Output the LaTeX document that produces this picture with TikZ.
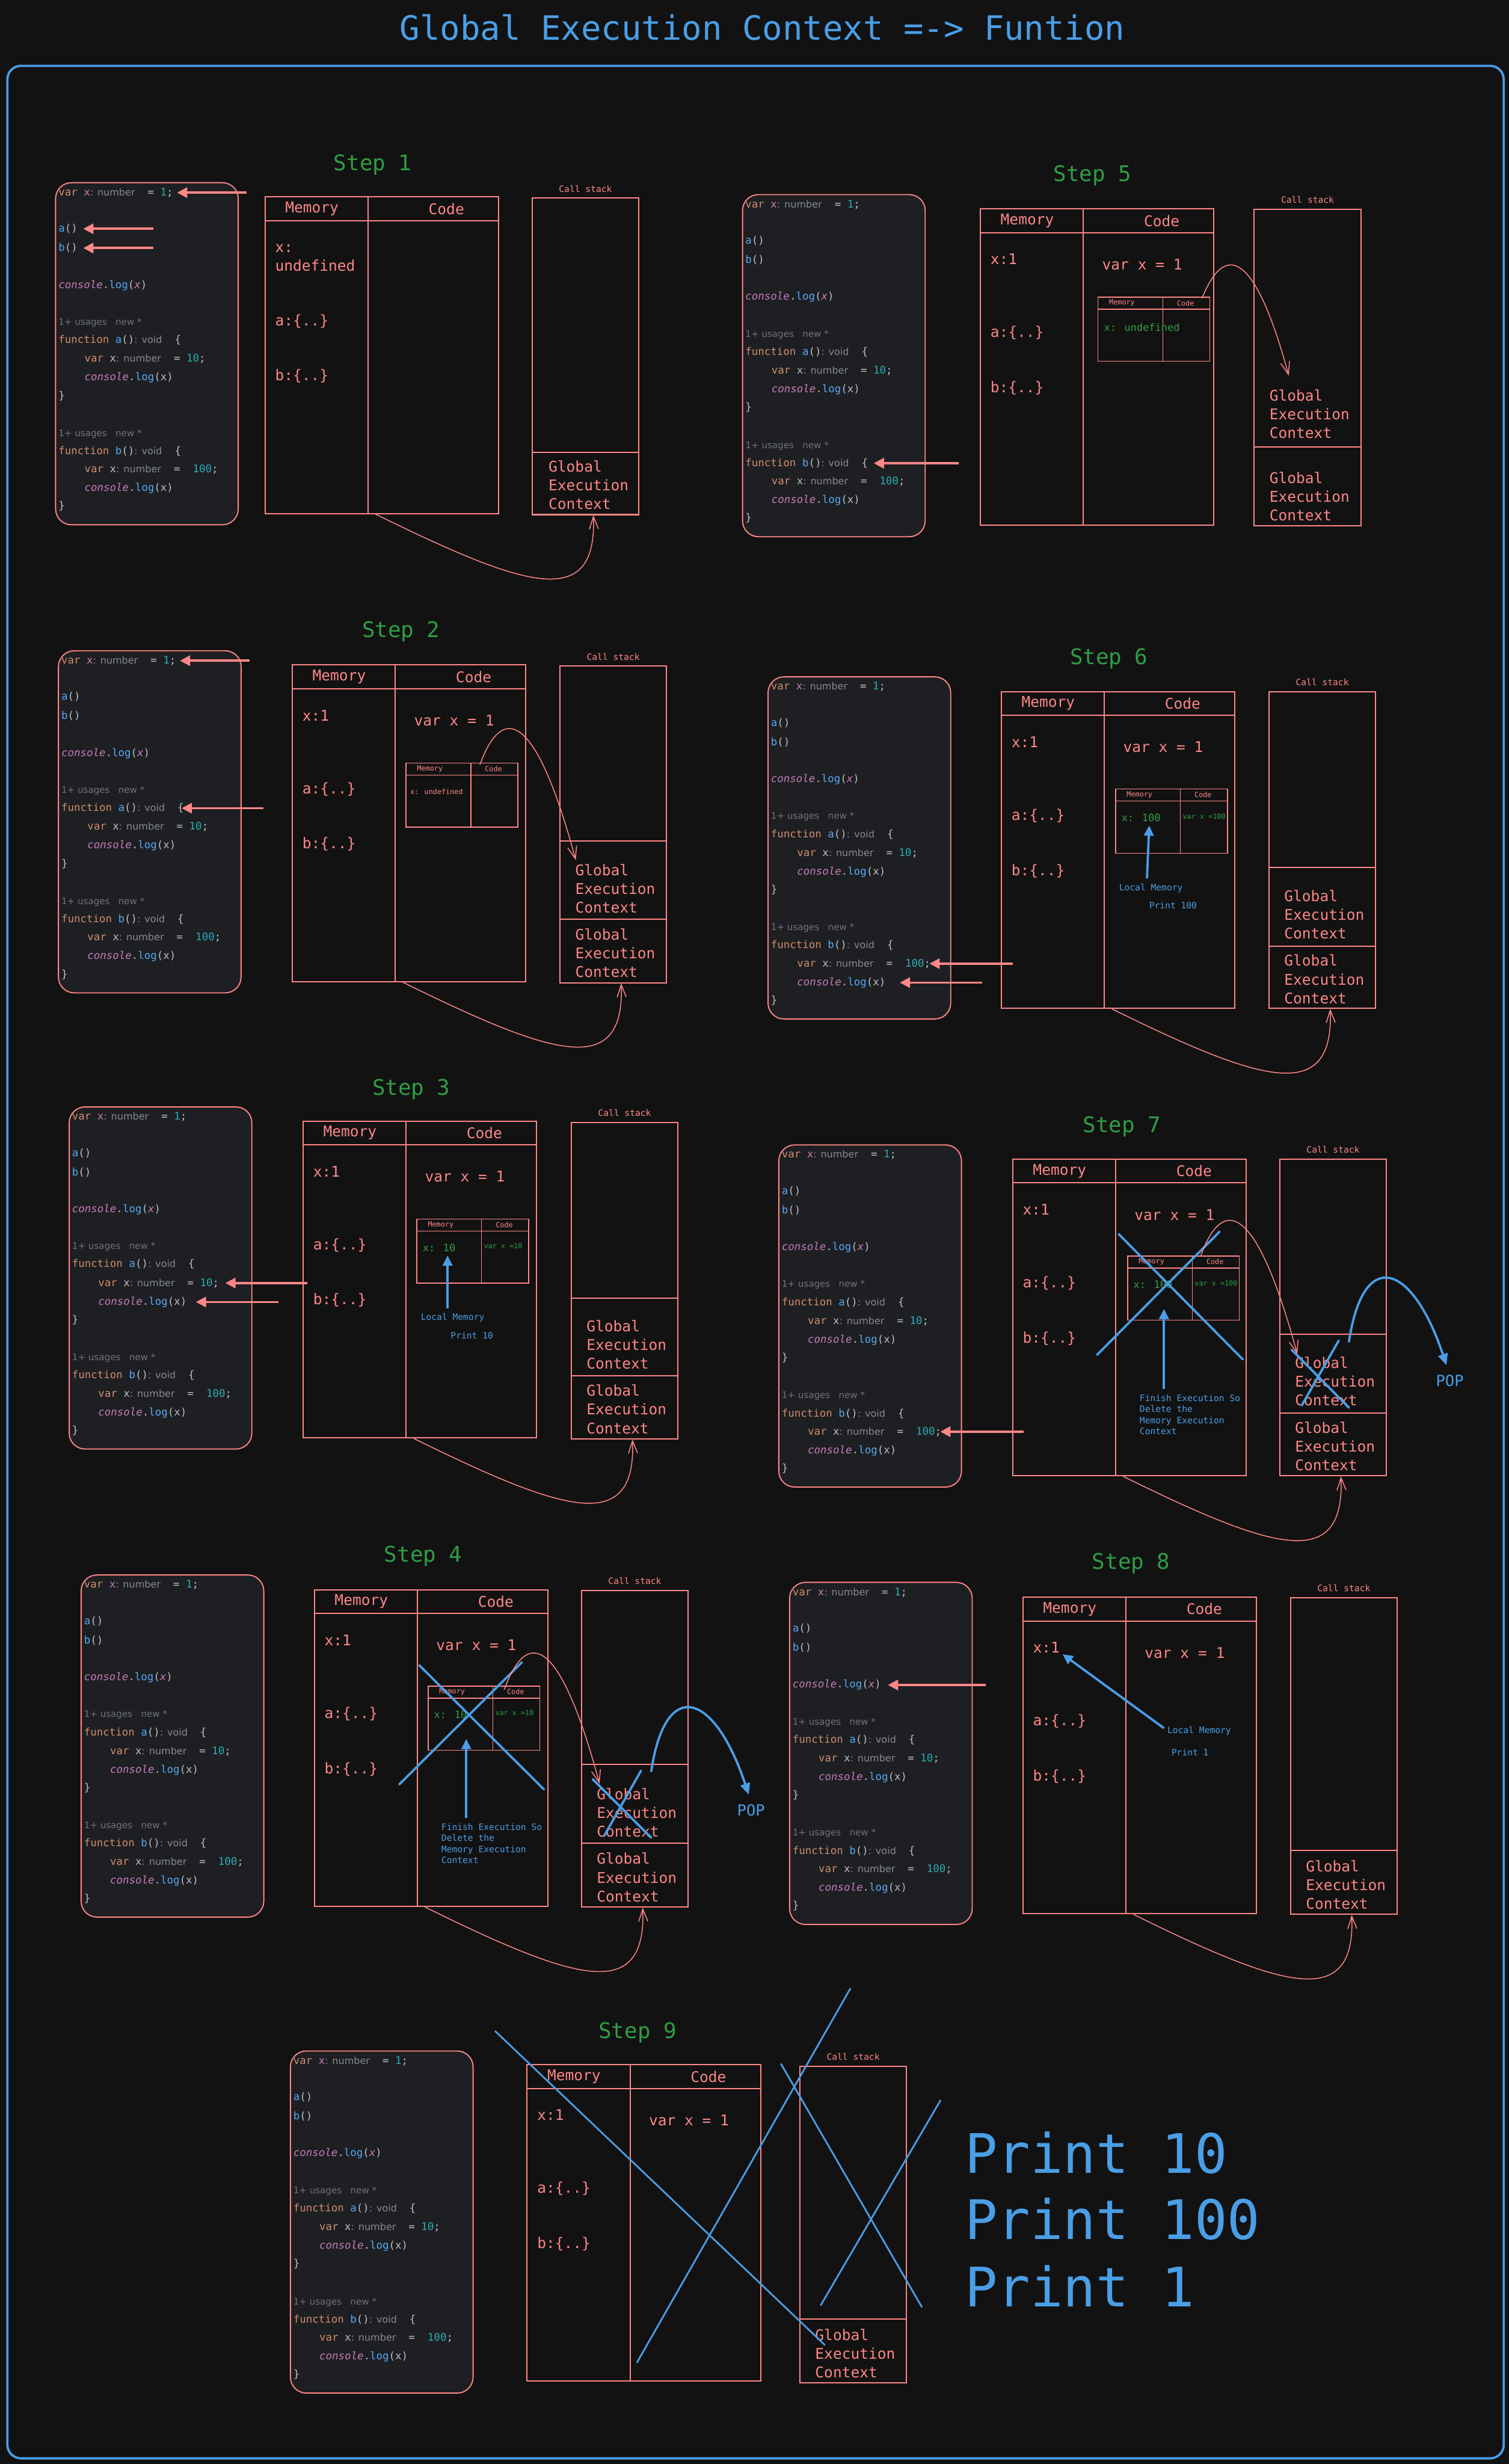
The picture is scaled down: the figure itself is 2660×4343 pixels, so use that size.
\documentclass[tikz,border=0pt]{standalone}
\usepackage{fontspec}
\setmainfont{DejaVu Sans Mono}
\newfontfamily\hintfont{DejaVu Sans}
\usetikzlibrary{positioning,arrows.meta,calc}

\definecolor{salmon}{HTML}{FF8787}
\definecolor{stepgreen}{HTML}{2F9E44}
\definecolor{noteblue}{HTML}{4A9EE6}
\definecolor{pagebg}{HTML}{121212}
\definecolor{codebg}{HTML}{1E1F22}
\definecolor{kwc}{HTML}{CF8E6D}
\definecolor{vrc}{HTML}{C77DBB}
\definecolor{fnc}{HTML}{56A8F5}
\definecolor{nmc}{HTML}{2AACB8}
\definecolor{txc}{HTML}{BCBEC4}
\definecolor{hnc}{HTML}{868A91}
\definecolor{usc}{HTML}{6F737A}

% colours of the listing
\newcommand\ckw[1]{\textcolor{kwc}{#1}}
\newcommand\cvar[1]{\textcolor{vrc}{#1}}
\newcommand\cfn[1]{\textcolor{fnc}{#1}}
\newcommand\cnum[1]{\textcolor{nmc}{#1}}
\newcommand\chint[1]{{\hintfont\fontsize{17pt}{19pt}\selectfont\textcolor{hnc}{#1}}}
\newcommand\cuse{{\hintfont\fontsize{16pt}{19pt}\selectfont\textcolor{usc}{1+ usages\ \ \ new *}}}
\newcommand\clog[1]{\textcolor{vrc}{\itshape console}.\textcolor{fnc}{log}(#1)}

% the js listing, one node per line
\newcommand\jscode[3]{%
  \node[codebox] (#1) at (#2,#3) {};
  \node[cl] (#1-1) at ($(#1.north west)+(6,24)$) {\ckw{var} \cvar{x}\chint{ : number}\ \ = \cnum{1};};
  \node[cl] (#1-2) at ($(#1.north west)+(6,88)$) {\cfn{a}()};
  \node[cl] (#1-3) at ($(#1.north west)+(6,122)$) {\cfn{b}()};
  \node[cl] (#1-4) at ($(#1.north west)+(6,187)$) {\clog{\cvar{\itshape x}}};
  \node[cl] (#1-5) at ($(#1.north west)+(6,252)$) {\cuse};
  \node[cl] (#1-6) at ($(#1.north west)+(6,284)$) {\ckw{function} \cfn{a}()\chint{ : void}\ \ \{};
  \node[cl] (#1-7) at ($(#1.north west)+(52,317)$) {\ckw{var} x\chint{ : number}\ \ = \cnum{10};};
  \node[cl] (#1-8) at ($(#1.north west)+(52,350)$) {\clog{x}};
  \node[cl] (#1-9) at ($(#1.north west)+(6,382)$) {\}};
  \node[cl] (#1-10) at ($(#1.north west)+(6,448)$) {\cuse};
  \node[cl] (#1-11) at ($(#1.north west)+(6,480)$) {\ckw{function} \cfn{b}()\chint{ : void}\ \ \{};
  \node[cl] (#1-12) at ($(#1.north west)+(52,512)$) {\ckw{var} x\chint{ : number}\ \ =\ \ \cnum{100};};
  \node[cl] (#1-13) at ($(#1.north west)+(52,545)$) {\clog{x}};
  \node[cl] (#1-14) at ($(#1.north west)+(6,577)$) {\}};
}
\newcommand\memtable[3]{%
  \node[tabframe, minimum width=412pt, minimum height=558pt] (#1) at (#2,#3) {};
  \draw[sk] ($(#1.north west)+(0,43)$) -- ($(#1.north east)+(0,43)$);
  \draw[sk] ($(#1.north west)+(183,0)$) -- ($(#1.south west)+(183,0)$);
  \node[tabtxt] (#1-hm) at ($(#1.north west)+(84,22)$) {Memory};
  \node[tabtxt] (#1-hc) at ($(#1.north west)+(321,22)$) {Code};
}
\newcommand\memvalues[1]{%
  \node[memtxt] (#1-x) at ($(#1.north west)+(19,90)$) {x:1};
  \node[memtxt] (#1-a) at ($(#1.north west)+(19,220)$) {a:\{..\}};
  \node[memtxt] (#1-b) at ($(#1.north west)+(19,317)$) {b:\{..\}};
  \node[memtxt] (#1-v) at ($(#1.north west)+(216,99)$) {var x = 1};
}
\newcommand\callstack[3]{%
  \node[tabframe, minimum width=188pt, minimum height=558pt] (#1) at (#2,#3) {};
  \node[cstxt, above=6pt of #1] (#1-lab) {Call stack};
}
\newcommand\stackline[2]{\draw[sk] ($(#1.north west)+(0,#2)$) -- ($(#1.north east)+(0,#2)$);}
\newcommand\minitable[3]{%
  \node[tabframe, line width=1.6pt, minimum width=197pt, minimum height=113pt] (#1) at (#2,#3) {};
  \draw[sk, line width=1.6pt] ($(#1.north west)+(0,22)$) -- ($(#1.north east)+(0,22)$);
  \draw[sk, line width=1.6pt] ($(#1.north west)+(115,0)$) -- ($(#1.south west)+(115,0)$);
  \node[minihd] (#1-hm) at ($(#1.north west)+(43,11)$) {Memory};
  \node[minihd] (#1-hc) at ($(#1.north west)+(155,11)$) {Code};
}
\newcommand\backflow[2]{\draw[push] ($(#1.south)+(-11,0)$) .. controls +(270,133) and +(6,167) .. ($(#2.south)+(14,0)$);}

\begin{document}
\begin{tikzpicture}[x=1pt, y=-1pt,
  board/.style={draw=noteblue, line width=4pt, rounded corners=24pt, anchor=north west,
                minimum width=2638pt, minimum height=4217pt, inner sep=0pt},
  titletxt/.style={text=noteblue, font=\fontsize{59pt}{66pt}\selectfont},
  steplab/.style={text=stepgreen, font=\fontsize{38pt}{44pt}\selectfont},
  codebox/.style={draw=salmon, fill=codebg, rounded corners=28pt, line width=2pt, anchor=north west,
                  minimum width=322pt, minimum height=603pt, inner sep=0pt},
  cl/.style={anchor=base west, inner sep=0pt, text=txc, font=\fontsize{18.5pt}{21pt}\selectfont},
  tabframe/.style={draw=salmon, line width=2.2pt, anchor=north west, inner sep=0pt},
  sk/.style={draw=salmon, line width=2.2pt},
  tabtxt/.style={text=salmon, font=\fontsize{26pt}{33pt}\selectfont},
  memtxt/.style={tabtxt, anchor=west, align=left, inner sep=0pt},
  gec/.style={text=salmon, font=\fontsize{26pt}{33pt}\selectfont, align=left, anchor=west, inner sep=0pt},
  cstxt/.style={text=salmon, font=\fontsize{15.5pt}{18pt}\selectfont},
  minihd/.style={text=salmon, font=\fontsize{12.5pt}{15pt}\selectfont},
  minival/.style={text=stepgreen, anchor=west, inner sep=0pt, font=\fontsize{18pt}{21pt}\selectfont},
  minicode/.style={text=stepgreen, anchor=west, inner sep=0pt, font=\fontsize{12.5pt}{15pt}\selectfont},
  note/.style={text=noteblue, align=left, inner sep=0pt, font=\fontsize{15.5pt}{19.5pt}\selectfont},
  poptxt/.style={text=noteblue, font=\fontsize{27pt}{30pt}\selectfont},
  printtxt/.style={text=noteblue, anchor=base west, inner sep=0pt, font=\fontsize{96pt}{110pt}\selectfont},
  ptr/.style={-{Triangle[length=18pt,width=18pt]}, line width=4pt, salmon},
  blueptr/.style={-{Triangle[length=18pt,width=17pt]}, line width=4pt, noteblue},
  cross/.style={line width=4pt, noteblue, line cap=round},
  push/.style={draw=salmon, line width=1.6pt, -{Straight Barb[length=22pt,width=16pt]}},
  popline/.style={draw=noteblue, line width=4pt, -{Triangle[length=20pt,width=17pt]}},
]
\useasboundingbox (0,0) rectangle (2660,4343);
\fill[pagebg] (0,0) rectangle (2660,4343);

\node[titletxt] (title) at (1344,48) {Global Execution Context =-> Funtion};
\node[board] (board) at (11,114) {};

% Step 1
\node[steplab] (step1) at (657,290) {Step 1};
\jscode{c1}{97}{321}
\memtable{m1}{466}{346}
\node[memtxt] (m1-x) at ($(m1.north west)+(19,108)$) {x:\\undefined};
\node[memtxt] (m1-a) at ($(m1.north west)+(19,220)$) {a:\{..\}};
\node[memtxt] (m1-b) at ($(m1.north west)+(19,317)$) {b:\{..\}};
\callstack{s1}{937}{348}
\stackline{s1}{449}
\node[gec] (s1-g) at ($(s1.north west)+(30,507)$) {Global\\Execution\\Context};
\draw[ptr] ($(c1-1.east)+(130,0)$) -- ($(c1-1.east)+(7,0)$);
\draw[ptr] ($(c1-2.east)+(134,0)$) -- ($(c1-2.east)+(10,0)$);
\draw[ptr] ($(c1-3.east)+(134,0)$) -- ($(c1-3.east)+(10,0)$);
\backflow{m1}{s1}

% Step 2
\node[steplab] (step2) at (707,1113) {Step 2};
\jscode{c2}{102}{1146}
\memtable{m2}{514}{1171}
\memvalues{m2}
\minitable{mini2}{715}{1344}
\node[minicode, text=salmon] (mini2-x) at ($(mini2.north west)+(8,51)$) {x: undefined};
\callstack{s2}{986}{1173}
\stackline{s2}{309}
\stackline{s2}{447}
\node[gec] (s2-g1) at ($(s2.north west)+(28,393)$) {Global\\Execution\\Context};
\node[gec] (s2-g2) at ($(s2.north west)+(28,507)$) {Global\\Execution\\Context};
\draw[ptr] ($(c2-1.east)+(130,0)$) -- ($(c2-1.east)+(7,0)$);
\draw[ptr] ($(c2-6.east)+(140,0)$) -- ($(c2-6.east)+(-4,0)$);
\draw[push] ($(mini2.north west)+(131,4)$) .. controls +(40,-110) and +(-70,-260) .. ($(s2.north west)+(29,343)$);
\backflow{m2}{s2}

% Step 3
\node[steplab] (step3) at (725,1920) {Step 3};
\jscode{c3}{121}{1950}
\memtable{m3}{533}{1975}
\memvalues{m3}
\minitable{mini3}{734}{2148}
\node[minival] (mini3-x) at ($(mini3.north west)+(11,51)$) {x: 10};
\node[minicode] (mini3-v) at ($(mini3.north west)+(119,48)$) {var x =10};
\node[note] (lm3) at ($(mini3.north west)+(64,175)$) {Local Memory};
\node[note] (pr3) at ($(mini3.north west)+(98,206)$) {Print 10};
\draw[blueptr] ($(lm3.north)+(-9,-9)$) -- ($(mini3.north west)+(55,65)$);
\callstack{s3}{1006}{1977}
\stackline{s3}{311}
\stackline{s3}{448}
\node[gec] (s3-g1) at ($(s3.north west)+(28,393)$) {Global\\Execution\\Context};
\node[gec] (s3-g2) at ($(s3.north west)+(28,507)$) {Global\\Execution\\Context};
\draw[ptr] ($(c3-7.east)+(156,0)$) -- ($(c3-7.east)+(11,0)$);
\draw[ptr] ($(c3-8.east)+(162,0)$) -- ($(c3-8.east)+(16,0)$);
\backflow{m3}{s3}

% Step 4
\node[steplab] (step4) at (746,2743) {Step 4};
\jscode{c4}{142}{2775}
\memtable{m4}{553}{2801}
\memvalues{m4}
\minitable{mini4}{754}{2971}
\node[minival] (mini4-x) at ($(mini4.north west)+(11,51)$) {x: 10};
\node[minicode] (mini4-v) at ($(mini4.north west)+(119,48)$) {var x =10};
\draw[cross] ($(mini4.north west)+(-15,-36)$) -- ($(mini4.north west)+(205,183)$);
\draw[cross] ($(mini4.north west)+(166,-41)$) -- ($(mini4.north west)+(-50,174)$);
\node[note, anchor=north west] (fin4) at ($(mini4.north west)+(24,243)$) {Finish Execution So\\Delete the\\Memory Execution\\Context};
\draw[blueptr] ($(fin4.north west)+(44,-10)$) -- ($(mini4.north west)+(68,94)$);
\callstack{s4}{1024}{2802}
\stackline{s4}{308}
\stackline{s4}{447}
\node[gec] (s4-g1) at ($(s4.north west)+(28,393)$) {Global\\Execution\\Context};
\node[gec] (s4-g2) at ($(s4.north west)+(28,507)$) {Global\\Execution\\Context};
\draw[cross] ($(s4.north west)+(21,334)$) -- ($(s4.north west)+(124,437)$);
\draw[cross] ($(s4.north west)+(106,319)$) -- ($(s4.north west)+(41,434)$);
\node[poptxt] (pop4) at ($(s4.north west)+(300,389)$) {POP};
\draw[popline] ($(s4.north west)+(124,321)$) .. controls +(25,-170) and +(-60,-180) .. ($(pop4.north)+(-4,-14)$);
\draw[push] ($(mini4.north west)+(135,7)$) .. controls +(40,-110) and +(-70,-260) .. ($(s4.north west)+(33,342)$);
\backflow{m4}{s4}

% Step 5
\node[steplab] (step5) at (1926,310) {Step 5};
\jscode{c5}{1308}{342}
\memtable{m5}{1727}{367}
\memvalues{m5}
\minitable{mini5}{1935}{523}
\node[minival] (mini5-x) at ($(mini5.north west)+(11,54)$) {x: undefined};
\callstack{s5}{2210}{368}
\stackline{s5}{420}
\node[gec] (s5-g1) at ($(s5.north west)+(28,362)$) {Global\\Execution\\Context};
\node[gec] (s5-g2) at ($(s5.north west)+(28,507)$) {Global\\Execution\\Context};
\draw[ptr] ($(c5-11.east)+(160,0)$) -- ($(c5-11.east)+(10,0)$);
\draw[push] ($(mini5.north west)+(184,3)$) .. controls +(40,-100) and +(-60,-220) .. ($(s5.north west)+(62,294)$);

% Step 6
\node[steplab] (step6) at (1955,1161) {Step 6};
\jscode{c6}{1353}{1192}
\memtable{m6}{1764}{1218}
\memvalues{m6}
\minitable{mini6}{1966}{1390}
\node[minival] (mini6-x) at ($(mini6.north west)+(11,51)$) {x: 100};
\node[minicode] (mini6-v) at ($(mini6.north west)+(119,49)$) {var x =100};
\node[note] (lm6) at ($(mini6.north west)+(63,175)$) {Local Memory};
\node[note] (pr6) at ($(mini6.north west)+(102,206)$) {Print 100};
\draw[blueptr] ($(lm6.north)+(-7,-9)$) -- ($(mini6.north west)+(60,65)$);
\callstack{s6}{2236}{1218}
\stackline{s6}{311}
\stackline{s6}{450}
\node[gec] (s6-g1) at ($(s6.north west)+(28,394)$) {Global\\Execution\\Context};
\node[gec] (s6-g2) at ($(s6.north west)+(28,508)$) {Global\\Execution\\Context};
\draw[ptr] ($(c6-12.east)+(145,0)$) -- ($(c6-12.east)+(-2,0)$);
\draw[ptr] ($(c6-13.east)+(170,0)$) -- ($(c6-13.east)+(25,0)$);
\backflow{m6}{s6}

% Step 7
\node[steplab] (step7) at (1978,1986) {Step 7};
\jscode{c7}{1372}{2017}
\memtable{m7}{1784}{2042}
\memvalues{m7}
\minitable{mini7}{1987}{2213}
\node[minival] (mini7-x) at ($(mini7.north west)+(11,51)$) {x: 100};
\node[minicode] (mini7-v) at ($(mini7.north west)+(119,49)$) {var x =100};
\draw[cross] ($(mini7.north west)+(-15,-38)$) -- ($(mini7.north west)+(204,183)$);
\draw[cross] ($(mini7.north west)+(163,-42)$) -- ($(mini7.north west)+(-53,175)$);
\node[note, anchor=north west] (fin7) at ($(mini7.north west)+(22,245)$) {Finish Execution So\\Delete the\\Memory Execution\\Context};
\draw[blueptr] ($(fin7.north west)+(43,-10)$) -- ($(mini7.north west)+(65,94)$);
\callstack{s7}{2255}{2042}
\stackline{s7}{310}
\stackline{s7}{449}
\node[gec] (s7-g1) at ($(s7.north west)+(28,393)$) {Global\\Execution\\Context};
\node[gec] (s7-g2) at ($(s7.north west)+(28,507)$) {Global\\Execution\\Context};
\draw[cross] ($(s7.north west)+(22,337)$) -- ($(s7.north west)+(123,439)$);
\draw[cross] ($(s7.north west)+(105,321)$) -- ($(s7.north west)+(40,435)$);
\node[poptxt] (pop7) at ($(s7.north west)+(301,392)$) {POP};
\draw[popline] ($(s7.north west)+(123,324)$) .. controls +(25,-170) and +(-60,-180) .. ($(pop7.north)+(-6,-14)$);
\draw[push] ($(mini7.north west)+(130,0)$) .. controls +(40,-110) and +(-70,-260) .. ($(s7.north west)+(32,345)$);
\draw[ptr] ($(c7-12.east)+(145,0)$) -- ($(c7-12.east)+(-2,0)$);
\backflow{m7}{s7}

% Step 8
\node[steplab] (step8) at (1994,2756) {Step 8};
\jscode{c8}{1391}{2788}
\memtable{m8}{1802}{2814}
\memvalues{m8}
\node[note, anchor=west] (lm8) at ($(m8.north west)+(256,237)$) {Local Memory};
\node[note] (pr8) at ($(m8.north west)+(296,275)$) {Print 1};
\draw[blueptr] ($(lm8.west)+(-6,-5)$) -- ($(m8-x.south east)+(5,2)$);
\callstack{s8}{2274}{2815}
\stackline{s8}{446}
\node[gec] (s8-g) at ($(s8.north west)+(28,507)$) {Global\\Execution\\Context};
\draw[ptr] ($(c8-4.east)+(185,0)$) -- ($(c8-4.east)+(12,0)$);
\backflow{m8}{s8}

% Step 9
\node[steplab] (step9) at (1124,3583) {Step 9};
\jscode{c9}{511}{3614}
\memtable{m9}{928}{3638}
\memvalues{m9}
\callstack{s9}{1409}{3641}
\stackline{s9}{446}
\node[gec] (s9-g) at ($(s9.north west)+(28,507)$) {Global\\Execution\\Context};
\draw[cross, line width=3pt] ($(m9.north west)+(-55,-58)$) -- ($(s9.north west)+(45,492)$);
\draw[cross, line width=3pt] ($(s9.north west)+(90,-136)$) -- ($(m9.north west)+(195,526)$);
\draw[cross, line width=3pt] ($(s9.north west)+(-32,-3)$) -- ($(s9.north west)+(216,425)$);
\draw[cross, line width=3pt] ($(s9.north west)+(249,61)$) -- ($(s9.north west)+(38,422)$);
\node[printtxt] (print10) at (1701,3830) {Print 10};
\node[printtxt] (print100) at (1701,3947) {Print 100};
\node[printtxt] (print1) at (1701,4066) {Print 1};
\end{tikzpicture}
\end{document}
